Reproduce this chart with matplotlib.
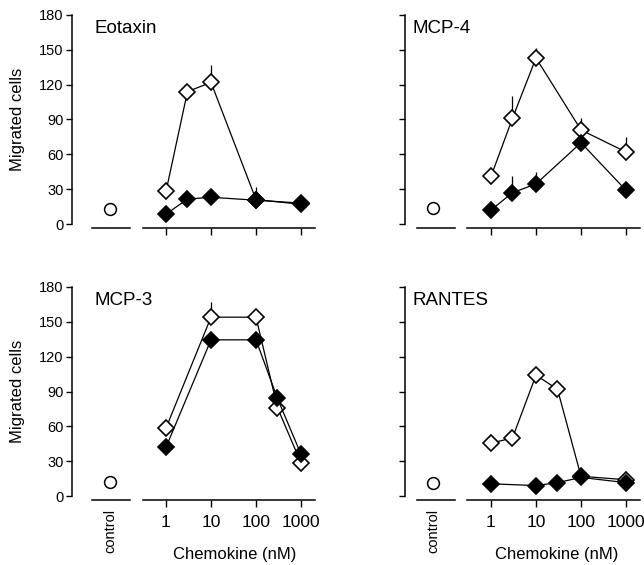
import numpy as np
import matplotlib
matplotlib.use("Agg")
import matplotlib.pyplot as plt

plt.rcParams['font.family'] = ['Liberation Sans', 'DejaVu Sans']

# ---------------- data ----------------
y_ticks = [0, 30, 60, 90, 120, 150, 180]
x_ticks = [1, 10, 100, 1000]
x_tick_labels = ["1", "10", "100", "1000"]

panel_titles = ["Eotaxin", "MCP-4", "MCP-3", "RANTES"]

eot_conc = [1, 3, 10, 100, 1000]
eot_open = [28, 114, 122, 21, 17]
eot_open_err = [0, 0, 15, 11, 0]
eot_filled = [8.5, 21.5, 23, 20.5, 18]
eot_filled_err = [0, 0, 0, 0, 0]
eot_control = 12.5

mcp4_conc = [1, 3, 10, 100, 1000]
mcp4_open = [41, 91, 143, 81, 62]
mcp4_open_err = [0, 19, 9, 10, 13]
mcp4_filled = [12, 27, 34.5, 70, 29]
mcp4_filled_err = [0, 14, 10, 8, 0]
mcp4_control = 14

mcp3_conc = [1, 10, 100, 300, 1000]
mcp3_open = [58.5, 154, 154, 76, 28.5]
mcp3_open_err = [0, 13, 5, 0, 0]
mcp3_filled = [42, 134.5, 134.5, 84, 36]
mcp3_filled_err = [0, 0, 0, 0, 0]
mcp3_control = 12.3

rantes_open_conc = [1, 3, 10, 30, 100, 1000]
rantes_open = [45.5, 50, 104, 92, 17, 14]
rantes_open_err = [0, 0, 0, 0, 0, 0]
rantes_filled_conc = [1, 10, 30, 100, 1000]
rantes_filled = [10.5, 9, 11.5, 16, 11.5]
rantes_filled_err = [0, 0, 0, 0, 0]
rantes_control = 11.6

panels = [
    dict(title=panel_titles[0], oc=eot_conc, o=eot_open, oe=eot_open_err,
         fc=eot_conc, f=eot_filled, fe=eot_filled_err, ctrl=eot_control),
    dict(title=panel_titles[1], oc=mcp4_conc, o=mcp4_open, oe=mcp4_open_err,
         fc=mcp4_conc, f=mcp4_filled, fe=mcp4_filled_err, ctrl=mcp4_control),
    dict(title=panel_titles[2], oc=mcp3_conc, o=mcp3_open, oe=mcp3_open_err,
         fc=mcp3_conc, f=mcp3_filled, fe=mcp3_filled_err, ctrl=mcp3_control),
    dict(title=panel_titles[3], oc=rantes_open_conc, o=rantes_open, oe=rantes_open_err,
         fc=rantes_filled_conc, f=rantes_filled, fe=rantes_filled_err, ctrl=rantes_control),
]

# ---------------- layout (pixels) ----------------
W, H = 644, 565
fig = plt.figure(figsize=(W / 100, H / 100), dpi=100)

def fx(px):
    return px / W

def fy(py):
    return 1 - py / H

row_y = [(15, 224), (287, 496)]          # (top px of 180, bottom px of 0)
col_geo = [
    dict(ctrl=(72, 140), main=(143, 315), lo=-23 / 45, ctrl_x=0.56, seg=(0.29, 0.86),
         title_x=94, ylab_x=18, xlab_x=235),
    dict(ctrl=(405, 465), main=(467, 640), lo=-24 / 45, ctrl_x=0.47, seg=(0.20, 0.83),
         title_x=413, ylab_x=None, xlab_x=557),
]

LW = 0.9
MS_D = 8.3
MS_C = 8.5

for i, p in enumerate(panels):
    r, c = divmod(i, 2)
    top, bot = row_y[r]
    g = col_geo[c]
    h = fy(top) - fy(bot)

    # control axes
    axc = fig.add_axes([fx(g['ctrl'][0]), fy(bot), fx(g['ctrl'][1] - g['ctrl'][0]), h])
    axc.set_xlim(0, 1)
    axc.set_ylim(0, 180)
    axc.patch.set_visible(False)
    for s in ['top', 'right']:
        axc.spines[s].set_visible(False)
    axc.spines['left'].set_linewidth(1.1)
    axc.spines['bottom'].set_linewidth(1.1)
    axc.spines['bottom'].set_bounds(*g['seg'])
    axc.spines['bottom'].set_position(('outward', 3))
    axc.set_yticks(y_ticks)
    axc.tick_params(axis='y', direction='out', length=4, width=1.0, labelsize=10.5, pad=2)
    if c == 1:
        axc.set_yticklabels([])
    if r == 1:
        axc.set_xticks([g['ctrl_x']])
        axc.set_xticklabels(['control'], rotation=90, fontsize=10.5, va='top')
        axc.tick_params(axis='x', length=0, pad=6)
    else:
        axc.set_xticks([])
    axc.plot([g['ctrl_x']], [p['ctrl']], marker='o', ms=MS_C, mfc='white', mec='black',
             mew=1.1, ls='none', clip_on=False, zorder=5)

    # main axes (log concentration)
    axm = fig.add_axes([fx(g['main'][0]), fy(bot), fx(g['main'][1] - g['main'][0]), h])
    axm.set_xscale('log')
    axm.set_xlim(10 ** g['lo'], 10 ** (3 + 14 / 45))
    axm.set_ylim(0, 180)
    axm.patch.set_visible(False)
    for s in ['top', 'right', 'left']:
        axm.spines[s].set_visible(False)
    axm.spines['bottom'].set_linewidth(1.1)
    axm.spines['bottom'].set_position(('outward', 3))
    axm.set_yticks([])
    axm.set_xticks(x_ticks)
    axm.xaxis.set_minor_locator(matplotlib.ticker.NullLocator())
    axm.tick_params(axis='x', direction='out', length=5, width=1.0, labelsize=12.5, pad=6)
    if r == 1:
        axm.set_xticklabels(x_tick_labels)
    else:
        axm.set_xticklabels([])

    # error bars (upward only)
    oc = np.array(p['oc']); o = np.array(p['o']); oe = np.array(p['oe'])
    fc = np.array(p['fc']); f = np.array(p['f']); fe = np.array(p['fe'])
    axm.vlines(oc[oe > 0], o[oe > 0], (o + oe)[oe > 0], color='black', lw=LW, zorder=1)
    axm.vlines(fc[fe > 0], f[fe > 0], (f + fe)[fe > 0], color='black', lw=LW, zorder=1)

    axm.plot(oc, o, color='black', lw=LW, marker='D', ms=MS_D, mfc='white', mec='black',
             mew=1.2, clip_on=False, zorder=3)
    axm.plot(fc, f, color='black', lw=LW, marker='D', ms=MS_D, mfc='black', mec='black',
             mew=1.2, clip_on=False, zorder=4)

    # title
    fig.text(fx(g['title_x']), fy(top + 5), p['title'], fontsize=13.5, va='top', ha='left')

    if g['ylab_x'] is not None:
        fig.text(fx(g['ylab_x']), fy((top + bot) / 2), 'Migrated cells', rotation=90,
                 fontsize=12, ha='center', va='center')
    if r == 1:
        fig.text(fx(g['xlab_x']), fy(555), 'Chemokine (nM)', fontsize=12,
                 ha='center', va='center')

fig.savefig('out.png', dpi=100)
